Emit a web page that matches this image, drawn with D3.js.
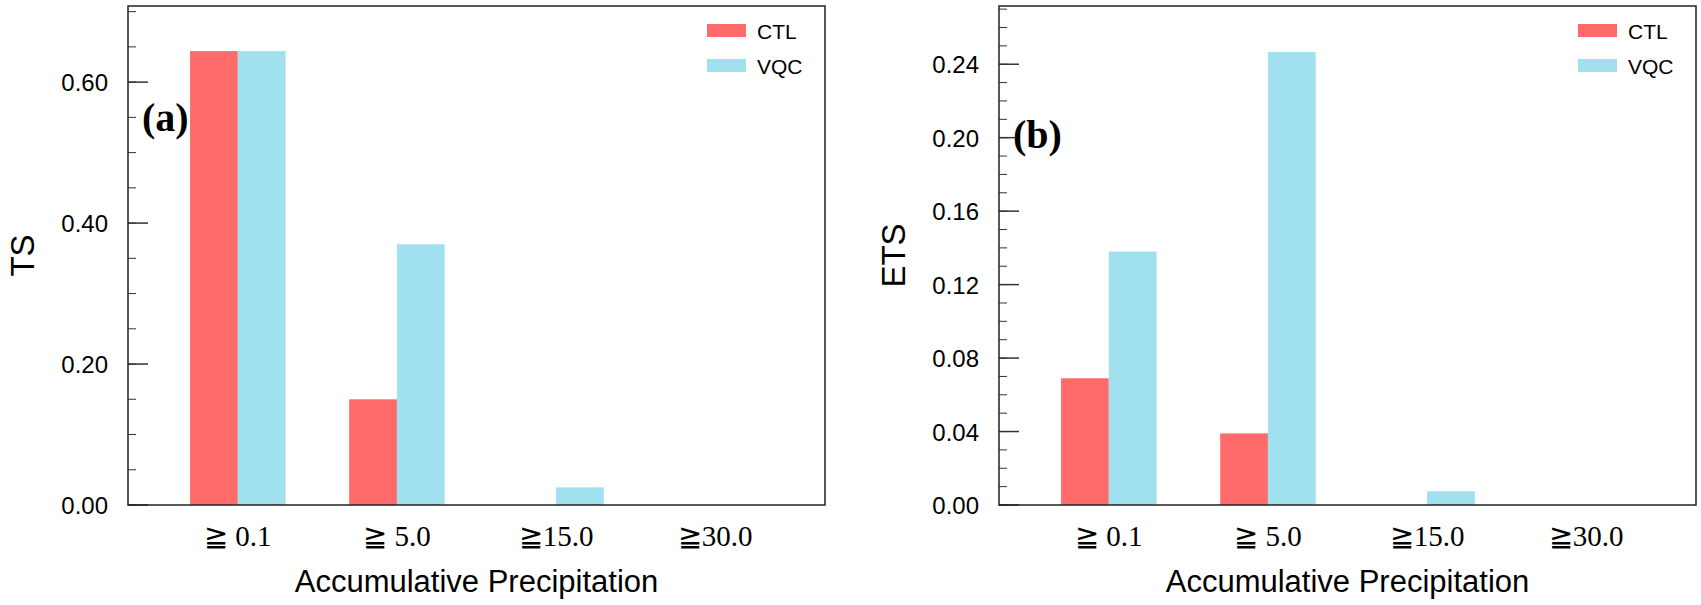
<!DOCTYPE html>
<html>
<head>
<meta charset="utf-8">
<script src="https://cdn.jsdelivr.net/npm/d3@7"></script>
<style>
  body { margin: 0; background: #fff; }
  text { font-family: "Liberation Sans", Arial, sans-serif; }
</style>
</head>
<body>
<svg id="chart" width="1701" height="605"></svg>
<script>
// data
var categories = ["≧ 0.1", "≧ 5.0", "≧15.0", "≧30.0"];
var series = ["CTL", "VQC"];
var tsCTL = [0.644, 0.15, 0, 0];
var tsVQC = [0.644, 0.37, 0.025, 0];
var etsCTL = [0.069, 0.039, 0, 0];
var etsVQC = [0.138, 0.2466, 0.0075, 0];
var tsTicks = [0, 0.2, 0.4, 0.6];
var etsTicks = [0, 0.04, 0.08, 0.12, 0.16, 0.20, 0.24];

var colors = { CTL: "#FF6B6B", VQC: "#A0E0EF" };
var svg = d3.select("#chart");

function drawPanel(opt) {
  var left = opt.left, right = opt.left + 697, top = 6, bottom = 505;

  var x = d3.scaleBand().domain(categories).range([left, right])
    .paddingInner(0.4).paddingOuter(0.39);
  var xs = d3.scaleBand().domain(series).range([0, x.bandwidth()]);
  var y = d3.scaleLinear().domain([0, opt.max]).range([bottom, top]);

  var g = svg.append("g");

  // bars
  series.forEach(function(s) {
    var vals = opt.values[s];
    g.selectAll(null).data(categories).enter().append("rect")
      .attr("x", c => x(c) + xs(s))
      .attr("width", xs.bandwidth())
      .attr("y", (c, i) => y(vals[i]))
      .attr("height", (c, i) => bottom - y(vals[i]))
      .attr("fill", colors[s]);
  });

  // minor ticks
  var minor = d3.range(0, opt.max + 1e-9, opt.minor);
  g.selectAll(null).data(minor).enter().append("line")
    .attr("x1", left).attr("x2", left + 8)
    .attr("y1", d => y(d)).attr("y2", d => y(d))
    .attr("stroke", "#333").attr("stroke-width", 1);

  // major ticks + labels
  g.selectAll(null).data(opt.ticks).enter().append("line")
    .attr("x1", left).attr("x2", left + 20)
    .attr("y1", d => y(d)).attr("y2", d => y(d))
    .attr("stroke", "#333").attr("stroke-width", 1.5);
  g.selectAll(null).data(opt.ticks).enter().append("text")
    .attr("x", left - 20).attr("y", d => y(d) + 9)
    .attr("text-anchor", "end").attr("font-size", 24)
    .text(d => d.toFixed(2));

  // frame
  g.append("rect").attr("x", left).attr("y", top)
    .attr("width", right - left).attr("height", bottom - top)
    .attr("fill", "none").attr("stroke", "#222").attr("stroke-width", 1.5);

  // x labels
  g.selectAll(null).data(categories).enter().append("text")
    .attr("x", c => x(c) + x.bandwidth() / 2).attr("y", 546)
    .attr("text-anchor", "middle").attr("font-size", 29)
    .style("font-family", "'Liberation Serif', 'Times New Roman', serif")
    .text(c => c);

  g.append("text").attr("x", (left + right) / 2).attr("y", 592)
    .attr("text-anchor", "middle").attr("font-size", 31)
    .text("Accumulative Precipitation");

  g.append("text")
    .attr("transform", "translate(" + (left - 94) + "," + ((top + bottom) / 2) + ") rotate(-90)")
    .attr("text-anchor", "middle").attr("font-size", 33)
    .text(opt.ylabel);

  g.append("text").attr("x", left + 14).attr("y", opt.tagY)
    .attr("font-size", 40).attr("font-weight", "bold")
    .style("font-family", "'Liberation Serif', 'Times New Roman', serif")
    .text(opt.tag);

  // legend
  series.forEach(function(s, i) {
    g.append("rect").attr("x", left + 579).attr("y", 24 + i * 35)
      .attr("width", 39).attr("height", 13).attr("fill", colors[s]);
    g.append("text").attr("x", left + 629).attr("y", 39 + i * 35)
      .attr("font-size", 21).text(s);
  });
}

drawPanel({ left: 128, max: 0.708, minor: 0.05, ticks: tsTicks,
  values: { CTL: tsCTL, VQC: tsVQC }, ylabel: "TS", tag: "(a)", tagY: 131 });
drawPanel({ left: 999, max: 0.2717, minor: 0.01, ticks: etsTicks,
  values: { CTL: etsCTL, VQC: etsVQC }, ylabel: "ETS", tag: "(b)", tagY: 148 });
</script>
</body>
</html>
